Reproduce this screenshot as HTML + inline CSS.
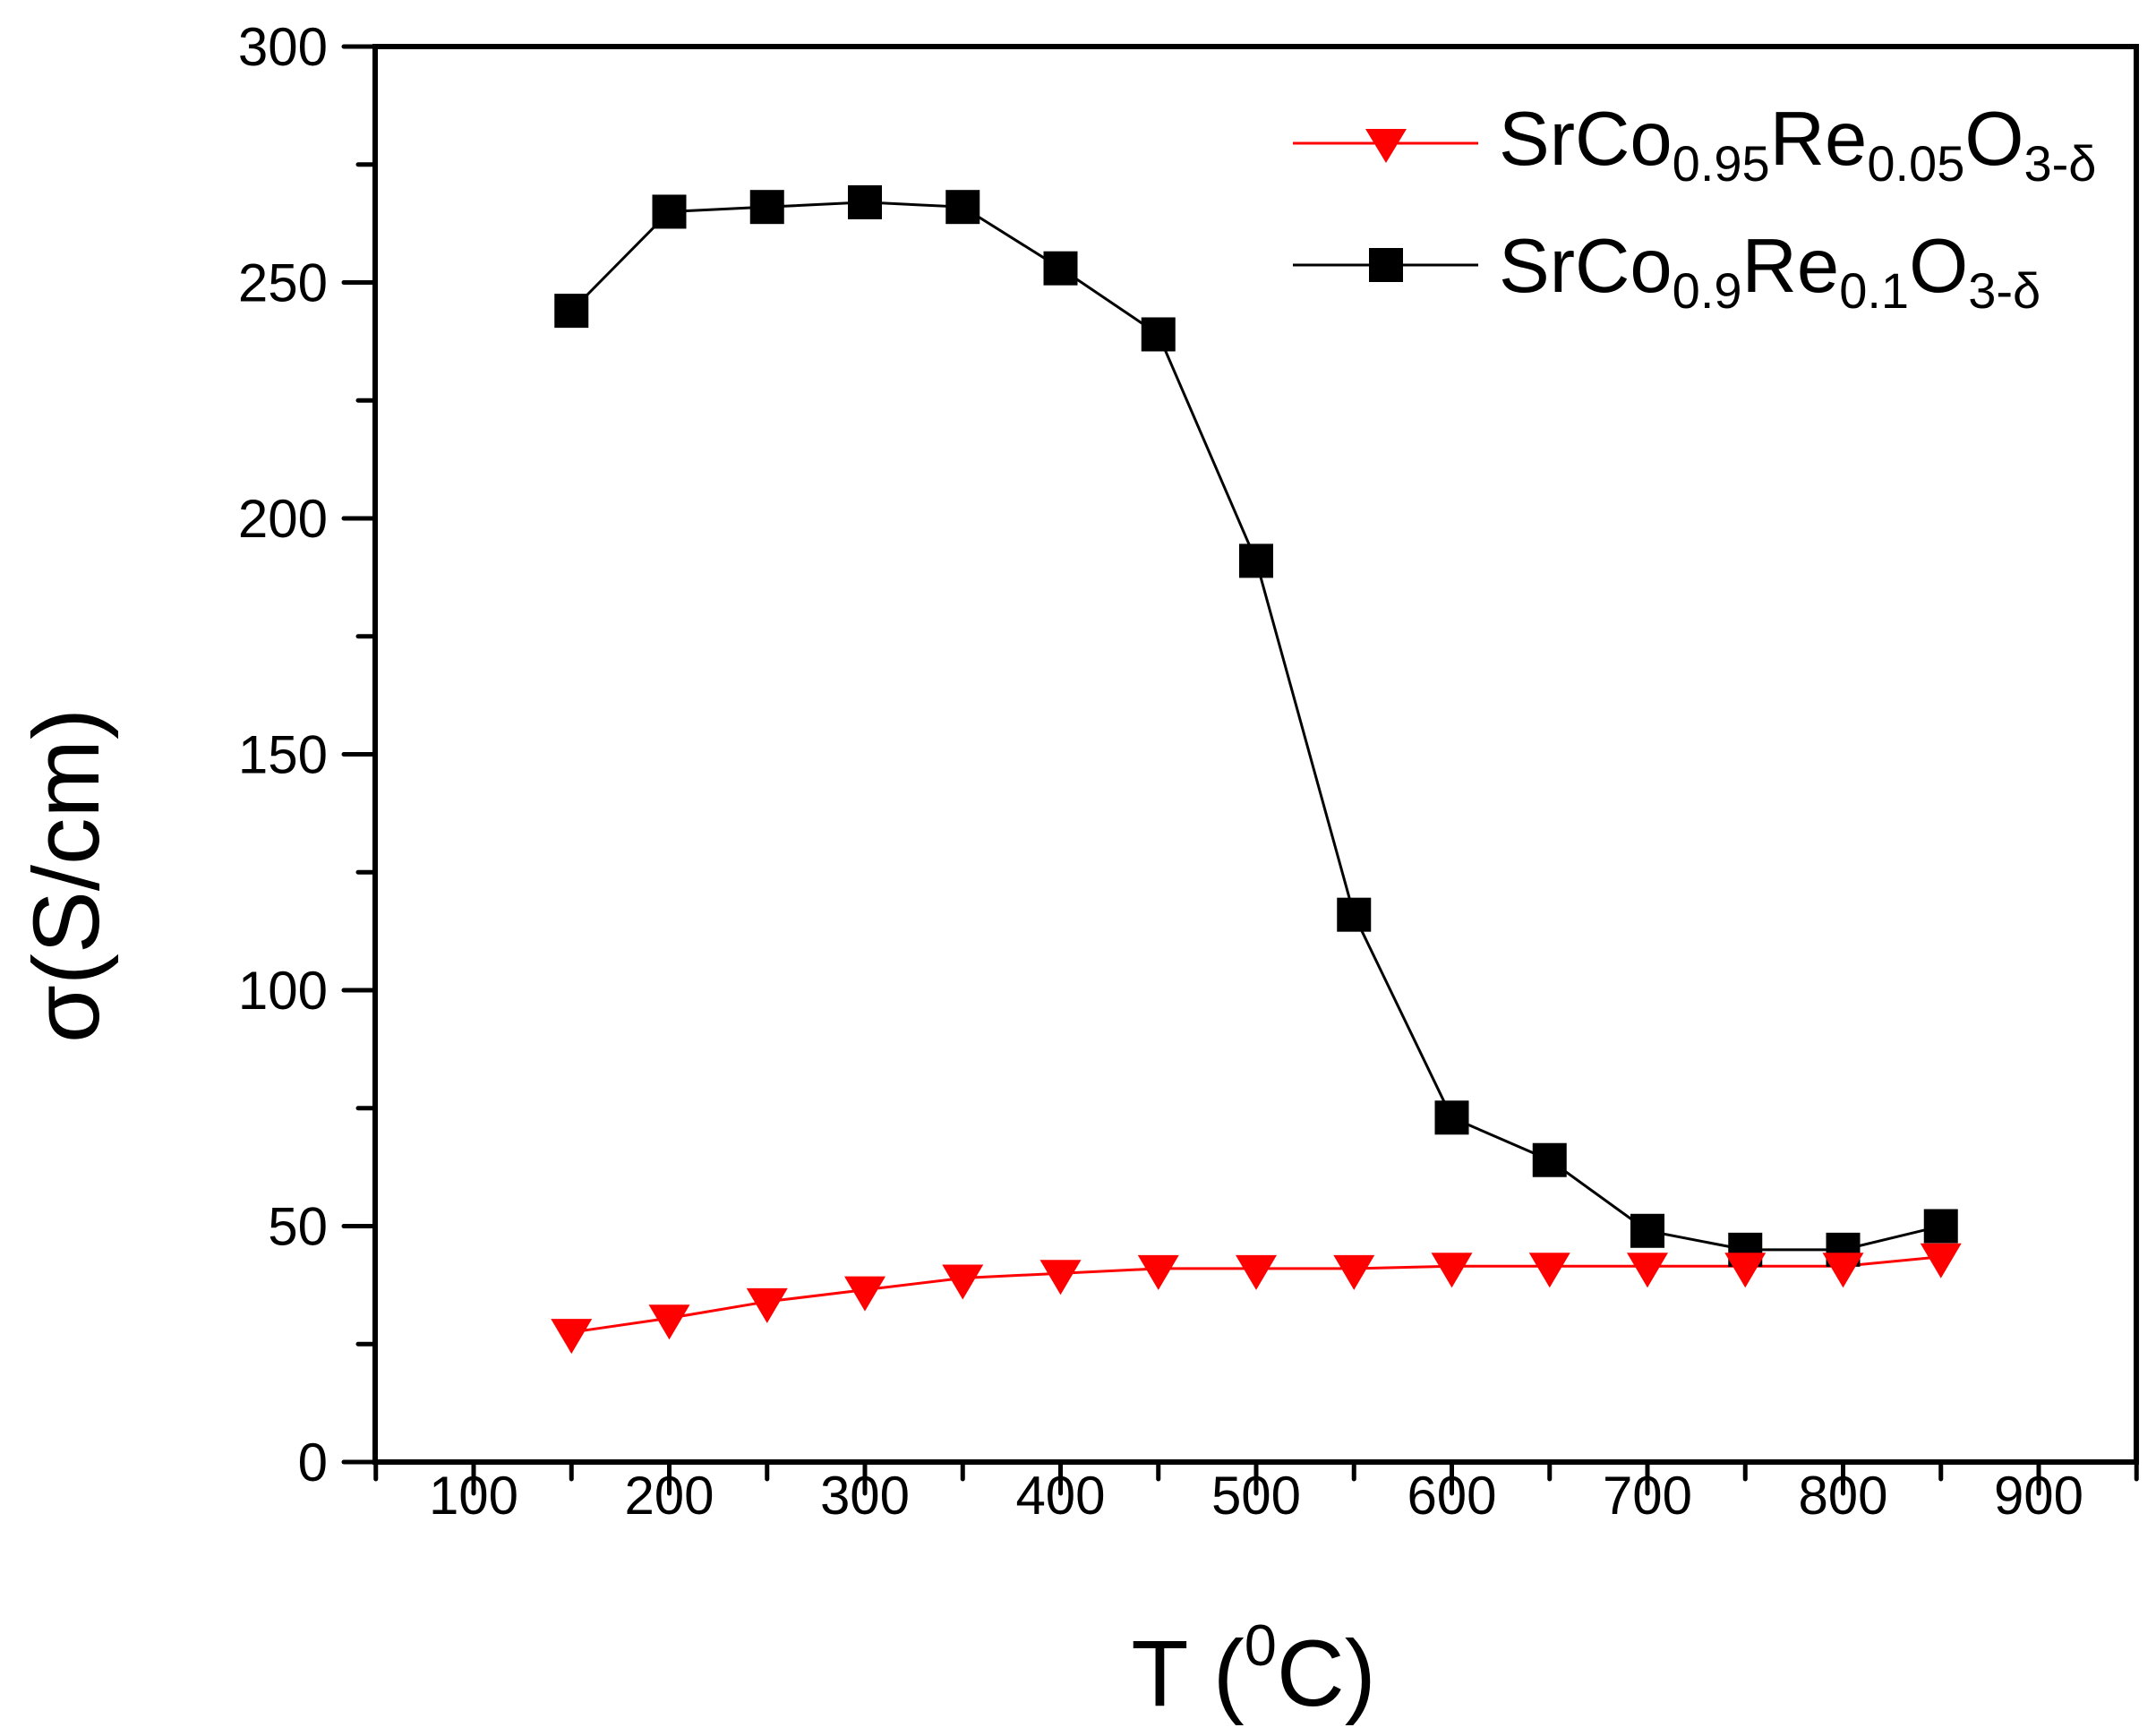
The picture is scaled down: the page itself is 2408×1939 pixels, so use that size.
<!DOCTYPE html>
<html><head><meta charset="utf-8"><style>html,body{margin:0;padding:0;background:#fff}svg{display:block}</style></head>
<body>
<svg width="2408" height="1939" viewBox="0 0 2408 1939" xmlns="http://www.w3.org/2000/svg" font-family="Liberation Sans, sans-serif">
<rect width="2408" height="1939" fill="#fff"/>
<g id="ticks" stroke="#000" stroke-width="5" stroke-linecap="round"></g>
<rect x="419" y="52" width="1967" height="1581" fill="none" stroke="#000" stroke-width="6"/>
<g id="series"></g>
<g id="labels" font-size="60" fill="#000"></g>
<text x="1400" y="1905" font-size="105" text-anchor="middle">T (<tspan dy="-45" font-size="65">0</tspan><tspan dy="45">C)</tspan></text>
<text transform="translate(110,978) rotate(-90)" font-size="105" text-anchor="middle">σ(S/cm)</text>
<line x1="1444" y1="160" x2="1651" y2="160" stroke="#f00" stroke-width="3"/>
<polygon points="1525,144 1571,144 1548,182" fill="#f00"/>
<text x="1674" y="184" font-size="85">SrCo<tspan font-size="56" dy="18">0.95</tspan><tspan dy="-18">Re</tspan><tspan font-size="56" dy="18">0.05</tspan><tspan dy="-18">O</tspan><tspan font-size="56" dy="18">3-δ</tspan></text>
<line x1="1444" y1="296" x2="1651" y2="296" stroke="#000" stroke-width="3"/>
<rect x="1529" y="277" width="38" height="38" fill="#000"/>
<text x="1674" y="326" font-size="85">SrCo<tspan font-size="56" dy="18">0.9</tspan><tspan dy="-18">Re</tspan><tspan font-size="56" dy="18">0.1</tspan><tspan dy="-18">O</tspan><tspan font-size="56" dy="18">3-δ</tspan></text>
<script>
var NS="http://www.w3.org/2000/svg";
function X(t){return 529+(t-100)*2.185}
function Y(v){return 1633-v*5.27}
function el(p,n,a){var e=document.createElementNS(NS,n);for(var k in a)e.setAttribute(k,a[k]);p.appendChild(e);return e}
var tk=document.getElementById('ticks'),lb=document.getElementById('labels'),sr=document.getElementById('series');
for(var t=50;t<=950;t+=50){var maj=t%100==0;el(tk,'line',{x1:X(t),y1:1633,x2:X(t),y2:1633+(maj?35:19)});
 if(maj){var e=el(lb,'text',{x:X(t),y:1691,'text-anchor':'middle'});e.textContent=t;}}
for(var v=0;v<=300;v+=25){var maj=v%50==0;el(tk,'line',{x1:419,y1:Y(v),x2:419-(maj?35:19),y2:Y(v)});
 if(maj){var e=el(lb,'text',{x:366,y:Y(v)+21,'text-anchor':'end'});e.textContent=v;}}
var T=[150,200,250,300,350,400,450,500,550,600,650,700,750,800,850];
var B=[244,265,266,267,266,253,239,191,116,73,64,49,45,45,50];
var R=[27.5,30.5,34,36.5,39,40,41,41,41,41.5,41.5,41.5,41.5,41.5,43.5];
el(sr,'polyline',{points:T.map(function(t,i){return X(t)+','+Y(R[i])}).join(' '),fill:'none',stroke:'#f00','stroke-width':3});
el(sr,'polyline',{points:T.map(function(t,i){return X(t)+','+Y(B[i])}).join(' '),fill:'none',stroke:'#000','stroke-width':3});
T.forEach(function(t,i){var x=X(t),y=Y(B[i]);el(sr,'rect',{x:x-19,y:y-19,width:38,height:38,fill:'#000'});});
T.forEach(function(t,i){var x=X(t),y=Y(R[i]);el(sr,'polygon',{points:(x-23)+','+(y-15)+' '+(x+23)+','+(y-15)+' '+x+','+(y+24),fill:'#f00'});});
</script>
</svg>
</body></html>
